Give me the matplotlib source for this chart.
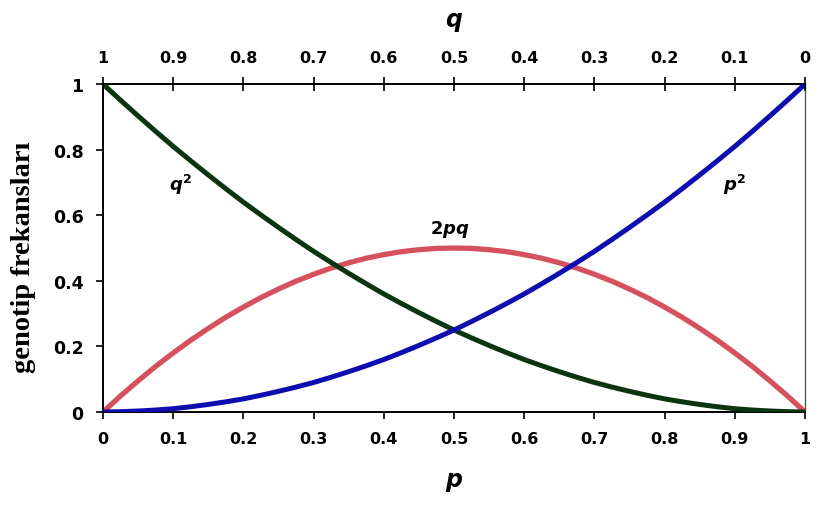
import numpy as np
import matplotlib.pyplot as plt

# allele frequency p (bottom axis), read at 0.025 steps
p_vals = [0.0, 0.025, 0.05, 0.075, 0.1, 0.125, 0.15, 0.175, 0.2, 0.225,
          0.25, 0.275, 0.3, 0.325, 0.35, 0.375, 0.4, 0.425, 0.45, 0.475,
          0.5, 0.525, 0.55, 0.575, 0.6, 0.625, 0.65, 0.675, 0.7, 0.725,
          0.75, 0.775, 0.8, 0.825, 0.85, 0.875, 0.9, 0.925, 0.95, 0.975, 1.0]

# genotype frequencies
p2_vals = [0.0, 0.001, 0.003, 0.006, 0.01, 0.016, 0.023, 0.031, 0.04, 0.051,
           0.063, 0.076, 0.09, 0.106, 0.123, 0.141, 0.16, 0.181, 0.203, 0.226,
           0.25, 0.276, 0.303, 0.331, 0.36, 0.391, 0.423, 0.456, 0.49, 0.526,
           0.563, 0.601, 0.64, 0.681, 0.723, 0.766, 0.81, 0.856, 0.903, 0.951, 1.0]
pq2_vals = [0.0, 0.049, 0.095, 0.139, 0.18, 0.219, 0.255, 0.289, 0.32, 0.349,
            0.375, 0.399, 0.42, 0.439, 0.455, 0.469, 0.48, 0.489, 0.495, 0.499,
            0.5, 0.499, 0.495, 0.489, 0.48, 0.469, 0.455, 0.439, 0.42, 0.399,
            0.375, 0.349, 0.32, 0.289, 0.255, 0.219, 0.18, 0.139, 0.095, 0.049, 0.0]
q2_vals = [1.0, 0.951, 0.903, 0.856, 0.81, 0.766, 0.723, 0.681, 0.64, 0.601,
           0.563, 0.526, 0.49, 0.456, 0.423, 0.391, 0.36, 0.331, 0.303, 0.276,
           0.25, 0.226, 0.203, 0.181, 0.16, 0.141, 0.123, 0.106, 0.09, 0.076,
           0.063, 0.051, 0.04, 0.031, 0.023, 0.016, 0.01, 0.006, 0.003, 0.001, 0.0]

bottom_ticks = [0, 0.1, 0.2, 0.3, 0.4, 0.5, 0.6, 0.7, 0.8, 0.9, 1]
bottom_labels = ['0', '0.1', '0.2', '0.3', '0.4', '0.5', '0.6', '0.7', '0.8', '0.9', '1']
top_labels = ['1', '0.9', '0.8', '0.7', '0.6', '0.5', '0.4', '0.3', '0.2', '0.1', '0']
y_ticks = [0, 0.2, 0.4, 0.6, 0.8, 1]
y_labels = ['0', '0.2', '0.4', '0.6', '0.8', '1']

fig = plt.figure(figsize=(8.25, 5.06), dpi=100)
ax = fig.add_axes([0.1248, 0.1838, 0.851, 0.648])

ax.plot(p_vals, q2_vals, color='#0b3510', lw=3.6, solid_capstyle='round', zorder=3)
ax.plot(p_vals, pq2_vals, color='#d6515e', lw=3.8, solid_capstyle='round', zorder=2)
ax.plot(p_vals, p2_vals, color='#0d0db0', lw=3.6, solid_capstyle='round', zorder=4)

# curve labels
ax.text(0.11, 0.695, r'$\mathbfit{q}^{\mathbf{2}}$', fontsize=13, ha='center', va='center')
ax.text(0.494, 0.56, r'$\mathbf{2}\mathbfit{pq}$', fontsize=13, ha='center', va='center')
ax.text(0.9, 0.695, r'$\mathbfit{p}^{\mathbf{2}}$', fontsize=13, ha='center', va='center')

ax.set_xlim(0, 1)
ax.set_ylim(0, 1)
ax.set_xticks(bottom_ticks)
ax.set_xticklabels(bottom_labels, fontsize=11.5, fontweight='bold')
ax.set_yticks(y_ticks)
ax.set_yticklabels(y_labels, fontsize=12.5, fontweight='bold')
ax.tick_params(axis='x', direction='out', length=5, width=1.2, pad=9)
ax.tick_params(axis='y', direction='out', length=5, width=1.2, pad=9)

for side in ['left', 'bottom', 'top']:
    ax.spines[side].set_linewidth(1.4)
    ax.spines[side].set_color('black')
ax.spines['right'].set_linewidth(1.0)
ax.spines['right'].set_color('#555555')

ax.set_xlabel('p', fontsize=17, fontweight='bold', style='italic', labelpad=15)
ax.set_ylabel('genotip frekansları', fontsize=20.5, fontweight='bold',
              family='Liberation Serif')
ax.yaxis.set_label_coords(-0.0954, 0.476)

# top axis: q = 1 - p
ax_top = ax.twiny()
ax_top.set_xlim(0, 1)
ax_top.set_xticks(bottom_ticks)
ax_top.set_xticklabels(top_labels, fontsize=11.5, fontweight='bold')
ax_top.tick_params(axis='x', direction='inout', length=10, width=1.2, pad=9)
ax_top.set_xlabel('q', fontsize=17, fontweight='bold', style='italic', labelpad=17)
for sp in ax_top.spines.values():
    sp.set_visible(False)

fig.savefig('out.png', dpi=100)
